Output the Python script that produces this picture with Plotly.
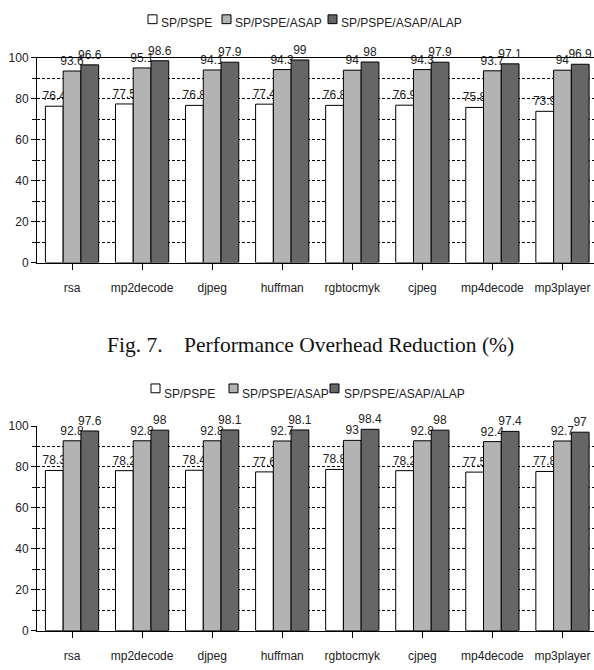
import plotly.graph_objects as go

categories = ["rsa", "mp2decode", "djpeg", "huffman", "rgbtocmyk", "cjpeg", "mp4decode", "mp3player"]
series_names = ["SP/PSPE", "SP/PSPE/ASAP", "SP/PSPE/ASAP/ALAP"]
series_colors = ["#FFFFFF", "#B3B3B3", "#666666"]

fig7_sp_pspe = [76.4, 77.5, 76.8, 77.4, 76.8, 76.9, 75.8, 73.9]
fig7_asap = [93.6, 95.1, 94.1, 94.3, 94, 94.3, 93.7, 94]
fig7_alap = [96.6, 98.6, 97.9, 99, 98, 97.9, 97.1, 96.9]

fig8_sp_pspe = [78.3, 78.2, 78.4, 77.6, 78.8, 78.2, 77.5, 77.8]
fig8_asap = [92.8, 92.8, 92.8, 92.7, 93, 92.8, 92.4, 92.7]
fig8_alap = [97.6, 98, 98.1, 98.1, 98.4, 98, 97.4, 97]

caption_top = "Fig. 7.\u00a0\u00a0\u00a0\u00a0Performance Overhead Reduction (%)"

W, H = 594, 670
FONT = "Liberation Sans, Arial, sans-serif"
TXT = "#222222"

fig = go.Figure()

def add_chart(values_list, xa, ya):
    for name, vals, col in zip(series_names, values_list, series_colors):
        fig.add_trace(go.Bar(
            x=categories, y=vals, name=name, showlegend=False,
            marker=dict(color=col, line=dict(color="#000000", width=1)),
            text=[f"{v:g}" for v in vals], textposition="outside",
            constraintext="none",
            textfont=dict(family=FONT, size=12, color=TXT),
            cliponaxis=False, xaxis=xa, yaxis=ya,
        ))

add_chart([fig7_sp_pspe, fig7_asap, fig7_alap], "x", "y")
add_chart([fig8_sp_pspe, fig8_asap, fig8_alap], "x2", "y2")

x_left = 37 / W

def px_domain(top_px, bottom_px):
    return [(H - bottom_px) / H, (H - top_px) / H]

xcommon = dict(
    range=[-0.5, 7.45], showline=True, linecolor="#000000", linewidth=1,
    ticks="outside", ticklen=6, tickcolor="#000000", showgrid=False,
    tickfont=dict(family=FONT, size=12, color=TXT),
    ticklabelstandoff=8, fixedrange=True,
)
ycommon = dict(
    range=[0, 100], dtick=20, showline=True, linecolor="#000000", linewidth=1,
    ticks="outside", ticklen=5, tickcolor="#000000",
    showgrid=True, gridcolor="#000000", gridwidth=1, griddash="3px,2px",
    zeroline=False,
    minor=dict(dtick=10, ticks="outside", ticklen=4, tickcolor="#000000",
               showgrid=True, gridcolor="#000000", gridwidth=1, griddash="3px,2px"),
    tickfont=dict(family=FONT, size=12, color=TXT),
    fixedrange=True,
)

# compact legends (small raised squares, text right after)
shapes = []
annotations = []
legend_layouts = [
    ([(148, 159), (222, 233), (328, 339)], 8, 16),
    ([(151, 162), (229, 240), (330, 342)], 385, 395),
]
for entries, sq_top, txt_mid in legend_layouts:
    for (sq_x, tx_x), name, col in zip(entries, series_names, series_colors):
        shapes.append(dict(type="rect", xref="paper", yref="paper",
                           x0=sq_x / W, x1=(sq_x + 9) / W,
                           y0=1 - (sq_top + 9) / H, y1=1 - sq_top / H,
                           fillcolor=col, line=dict(color="#000000", width=1)))
        annotations.append(dict(text=name, xref="paper", yref="paper",
                                x=tx_x / W, y=1 - txt_mid / H, xanchor="left", yanchor="middle",
                                showarrow=False, font=dict(family=FONT, size=12, color=TXT)))

annotations.append(dict(text=caption_top, x=310 / W, y=1 - 345 / H, xref="paper", yref="paper",
                        xanchor="center", yanchor="middle", showarrow=False,
                        font=dict(family="Liberation Serif, Times New Roman, serif", size=21.5,
                                  color="#111111")))

fig.update_layout(
    width=W, height=H,
    margin=dict(l=0, r=0, t=0, b=0),
    paper_bgcolor="#FFFFFF", plot_bgcolor="#FFFFFF",
    barmode="group", bargap=0.24, bargroupgap=0,
    xaxis=dict(domain=[x_left, 1], anchor="y", mirror=True, **xcommon),
    yaxis=dict(domain=px_domain(52, 261), anchor="x", **ycommon),
    xaxis2=dict(domain=[x_left, 1], anchor="y2", **xcommon),
    yaxis2=dict(domain=px_domain(428, 637), anchor="x2", **ycommon),
    shapes=shapes,
    annotations=annotations,
)

fig.write_html("out.html", config={"displayModeBar": False},
               post_script="document.body.style.margin='0';document.body.style.overflow='hidden';")
